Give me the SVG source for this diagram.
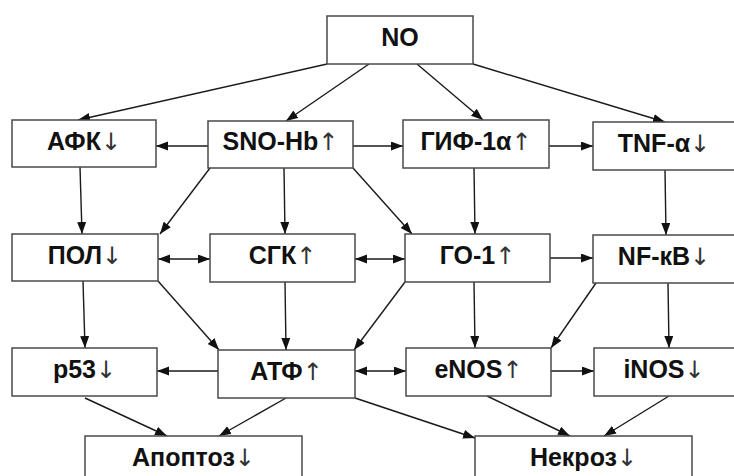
<svg xmlns="http://www.w3.org/2000/svg" width="734" height="476" viewBox="0 0 734 476">
<style>
.box{fill:#fff;stroke:#4a4a4a;stroke-width:1.5}
.lbl{font-family:"Liberation Sans",Arial,sans-serif;font-weight:bold;font-size:25px;fill:#111;text-anchor:middle}
.ar{font-family:"DejaVu Sans",sans-serif;font-weight:normal;font-size:24px;fill:#333}
.con line{stroke:#1a1a1a;stroke-width:1.4;marker-end:url(#ah)}
.con line.bi{marker-start:url(#ah)}
</style>
<defs>
<marker id="ah" markerUnits="userSpaceOnUse" markerWidth="13" markerHeight="10" refX="12" refY="4.5" orient="auto-start-reverse" viewBox="0 0 13 10">
<path d="M0,0 L12,4.5 L0,9 z" fill="#111"/>
</marker>
</defs>
<rect width="734" height="476" fill="#fff"/>
<g id="connectors" class="con">
<line x1="327" y1="64" x2="78" y2="120"/>
<line x1="369" y1="64" x2="286" y2="121"/>
<line x1="417" y1="64" x2="483" y2="120"/>
<line x1="473" y1="64" x2="665" y2="122"/>
<line x1="208" y1="146" x2="156" y2="146"/>
<line x1="353" y1="146" x2="403" y2="146"/>
<line x1="549" y1="146" x2="593" y2="146"/>
<line x1="80" y1="167" x2="82" y2="234"/>
<line x1="210" y1="168" x2="160" y2="234"/>
<line x1="284" y1="168" x2="285" y2="234"/>
<line x1="353" y1="168" x2="412" y2="234"/>
<line x1="474" y1="168" x2="475" y2="234"/>
<line x1="665" y1="170" x2="666" y2="235"/>
<line class="bi" x1="158" y1="259" x2="210" y2="259"/>
<line class="bi" x1="355" y1="259" x2="405" y2="259"/>
<line x1="550" y1="258" x2="593" y2="258"/>
<line x1="83" y1="281" x2="85" y2="348"/>
<line x1="158" y1="281" x2="219" y2="350"/>
<line x1="285" y1="282" x2="286" y2="350"/>
<line x1="405" y1="282" x2="354" y2="350"/>
<line x1="218" y1="371" x2="157" y2="371"/>
<line class="bi" x1="355" y1="371" x2="406" y2="371"/>
<line x1="474" y1="282" x2="475" y2="348"/>
<line x1="596" y1="283" x2="551" y2="348"/>
<line x1="668" y1="283" x2="669" y2="348"/>
<line x1="551" y1="371" x2="594" y2="371"/>
<line x1="85" y1="398" x2="167" y2="436"/>
<line x1="286" y1="398" x2="219" y2="436"/>
<line x1="355" y1="398" x2="475" y2="438"/>
<line x1="487" y1="396" x2="570" y2="436"/>
<line x1="669" y1="396" x2="604" y2="436"/>
</g>
<g id="n-no"><rect class="box" x="327" y="16" width="146" height="48"/><text class="lbl" x="400" y="46">NO</text></g>
<g id="n-afk"><rect class="box" x="12" y="120" width="144" height="47"/><text class="lbl" x="84" y="150">АФК<tspan class="ar">↓</tspan></text></g>
<g id="n-snohb"><rect class="box" x="208" y="121" width="145" height="47"/><text class="lbl" x="280.5" y="150">SNO-Hb<tspan class="ar">↑</tspan></text></g>
<g id="n-gif"><rect class="box" x="403" y="120" width="146" height="48"/><text class="lbl" x="476" y="150">ГИФ-1α<tspan class="ar">↑</tspan></text></g>
<g id="n-tnf"><rect class="box" x="593" y="122" width="142" height="48"/><text class="lbl" x="664" y="152">TNF-α<tspan class="ar">↓</tspan></text></g>
<g id="n-pol"><rect class="box" x="12" y="234" width="146" height="47"/><text class="lbl" x="85" y="264">ПОЛ<tspan class="ar">↓</tspan></text></g>
<g id="n-sgk"><rect class="box" x="210" y="234" width="145" height="48"/><text class="lbl" x="282.5" y="264">СГК<tspan class="ar">↑</tspan></text></g>
<g id="n-go1"><rect class="box" x="405" y="234" width="145" height="48"/><text class="lbl" x="477.5" y="264">ГО-1<tspan class="ar">↑</tspan></text></g>
<g id="n-nfkb"><rect class="box" x="593" y="235" width="142" height="48"/><text class="lbl" x="664" y="265">NF-кB<tspan class="ar">↓</tspan></text></g>
<g id="n-p53"><rect class="box" x="12" y="348" width="145" height="48"/><text class="lbl" x="84.5" y="378">p53<tspan class="ar">↓</tspan></text></g>
<g id="n-atf"><rect class="box" x="218" y="350" width="137" height="48"/><text class="lbl" x="286.5" y="380">АТФ<tspan class="ar">↑</tspan></text></g>
<g id="n-enos"><rect class="box" x="406" y="348" width="145" height="48"/><text class="lbl" x="478.5" y="378">eNOS<tspan class="ar">↑</tspan></text></g>
<g id="n-inos"><rect class="box" x="594" y="348" width="141" height="48"/><text class="lbl" x="664" y="378">iNOS<tspan class="ar">↓</tspan></text></g>
<g id="n-apoptoz"><rect class="box" x="85" y="436" width="217" height="50"/><text class="lbl" x="193.5" y="466">Апоптоз<tspan class="ar">↓</tspan></text></g>
<g id="n-nekroz"><rect class="box" x="475" y="436" width="217" height="50"/><text class="lbl" x="583.5" y="466">Некроз<tspan class="ar">↓</tspan></text></g>
</svg>
